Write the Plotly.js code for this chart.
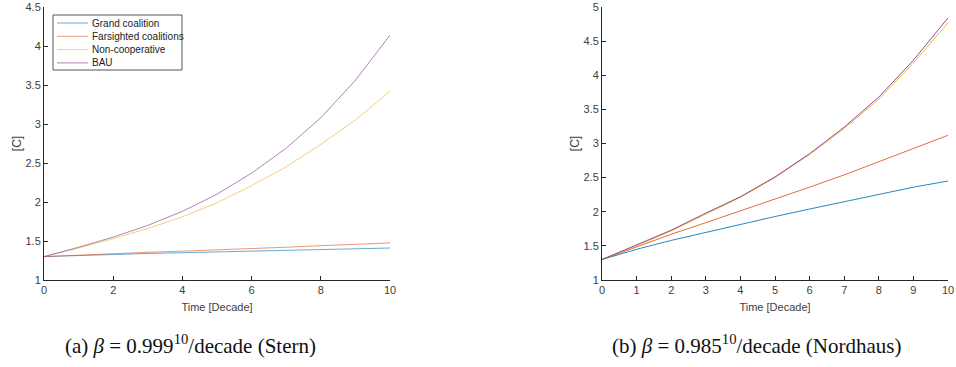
<!DOCTYPE html>
<html>
<head>
<meta charset="utf-8">
<script src="https://cdn.plot.ly/plotly-3.0.1.min.js"></script>
<style>html,body{margin:0;padding:0;background:#fff;}#chart{width:956px;height:367px;}</style>
</head>
<body>
<div id="chart"></div>
<script>
const time = [0,1,2,3,4,5,6,7,8,9,10];
const seriesNames = ["Grand coalition","Farsighted coalitions","Non-cooperative","BAU"];
const colorsA = ["rgba(0,114,189,0.6)","rgba(217,83,25,0.6)","rgba(237,177,32,0.6)","rgba(126,47,142,0.6)"];
const colorsB = ["rgba(0,114,189,0.85)","rgba(217,83,25,0.85)","rgba(237,177,32,0.85)","rgba(126,47,142,0.85)"];

// (a) Stern
const sternGrand      = [1.30,1.315,1.33,1.34,1.35,1.36,1.37,1.38,1.39,1.40,1.41];
const sternFarsighted = [1.30,1.32,1.34,1.355,1.37,1.385,1.40,1.42,1.44,1.455,1.475];
const sternNonCoop    = [1.30,1.41,1.53,1.66,1.81,1.99,2.21,2.45,2.74,3.05,3.42];
const sternBAU        = [1.30,1.42,1.55,1.70,1.88,2.10,2.37,2.69,3.08,3.56,4.14];

// (b) Nordhaus
const nordGrand      = [1.30,1.45,1.58,1.70,1.82,1.93,2.04,2.15,2.26,2.36,2.45];
const nordFarsighted = [1.30,1.49,1.67,1.84,2.01,2.18,2.36,2.54,2.73,2.92,3.12];
const nordNonCoop    = [1.30,1.50,1.72,1.97,2.21,2.50,2.84,3.22,3.65,4.18,4.77];
const nordBAU        = [1.30,1.51,1.73,1.98,2.22,2.51,2.85,3.24,3.68,4.22,4.84];

const xTicksA = [0,2,4,6,8,10];
const xTicksB = [0,1,2,3,4,5,6,7,8,9,10];
const yTicksA = [1,1.5,2,2.5,3,3.5,4,4.5];
const yTicksB = [1,1.5,2,2.5,3,3.5,4,4.5,5];

const sternData = [sternGrand, sternFarsighted, sternNonCoop, sternBAU];
const nordData  = [nordGrand, nordFarsighted, nordNonCoop, nordBAU];

const traces = [];
sternData.forEach((ys,i)=>{
  traces.push({x:time, y:ys, type:'scatter', mode:'lines', name:seriesNames[i],
    line:{color:colorsA[i], width:1}, xaxis:'x', yaxis:'y', showlegend:false});
});
nordData.forEach((ys,i)=>{
  traces.push({x:time, y:ys, type:'scatter', mode:'lines', name:seriesNames[i],
    line:{color:colorsB[i], width:1}, xaxis:'x2', yaxis:'y2', showlegend:false});
});

const W = 956, H = 367;
const axColor = '#262626';
const sans = 'Arial, Liberation Sans, sans-serif';
const tickFont = {family:sans, size:11, color:'#404040'};
function xax(domain, ticks){
  return {domain:domain, range:[0,10], tickvals:ticks, ticktext:ticks.map(String),
    showline:true, linecolor:axColor, linewidth:1, ticks:'inside', ticklen:4, tickcolor:axColor,
    showgrid:false, zeroline:false, tickfont:tickFont, fixedrange:true,
    title:{text:'Time [Decade]', font:{family:sans, size:11, color:'#404040'}, standoff:8}};
}
function yax(domain, range, ticks, anchor){
  return {domain:domain, range:range, tickvals:ticks, ticktext:ticks.map(String), anchor:anchor,
    showline:true, linecolor:axColor, linewidth:1, ticks:'inside', ticklen:4, tickcolor:axColor,
    showgrid:false, zeroline:false, tickfont:tickFont, fixedrange:true,
    title:{text:'[C]', font:{family:sans, size:12, color:'#404040'}, standoff:1}};
}
const yDom = [(H-280)/H, (H-7)/H];

// compact MATLAB-style legend for panel (a)
const legShapes = [{type:'rect', xref:'paper', yref:'paper', x0:53/W, x1:182/W, y0:(H-70)/H, y1:(H-15)/H,
  line:{color:'#555', width:1}, fillcolor:'#fff'}];
const legAnn = [];
seriesNames.forEach((n,i)=>{
  const yy = (H-(23+13.3*i))/H;
  legShapes.push({type:'line', xref:'paper', yref:'paper', x0:57/W, x1:88/W, y0:yy, y1:yy,
    line:{color:colorsA[i], width:1}});
  legAnn.push({text:n, xref:'paper', yref:'paper', x:90/W, y:yy, xanchor:'left', yanchor:'middle',
    showarrow:false, font:{family:sans, size:10, color:'#222'}});
});

const serif = 'Liberation Serif, Times New Roman, serif';
const layout = {
  width:W, height:H, margin:{l:0,r:0,t:0,b:0}, paper_bgcolor:'#fff', plot_bgcolor:'#fff',
  showlegend:false,
  xaxis: Object.assign(xax([44/W, 390/W], xTicksA), {anchor:'y'}),
  yaxis: yax(yDom, [1,4.5], yTicksA, 'x'),
  xaxis2: Object.assign(xax([602/W, 948/W], xTicksB), {anchor:'y2'}),
  yaxis2: yax(yDom, [1,5], yTicksB, 'x2'),
  shapes: legShapes,
  annotations: legAnn.concat([
    {text:'(a) <i>β</i> = 0.999<sup>10</sup>/decade (Stern)', x:190/W, y:(H-344)/H, xref:'paper', yref:'paper',
     showarrow:false, xanchor:'center', yanchor:'middle', font:{family:serif, size:21, color:'#111'}},
    {text:'(b) <i>β</i> = 0.985<sup>10</sup>/decade (Nordhaus)', x:757/W, y:(H-344)/H, xref:'paper', yref:'paper',
     showarrow:false, xanchor:'center', yanchor:'middle', font:{family:serif, size:21, color:'#111'}}
  ])
};
Plotly.newPlot('chart', traces, layout, {displayModeBar:false, staticPlot:true});
</script>
</body>
</html>
